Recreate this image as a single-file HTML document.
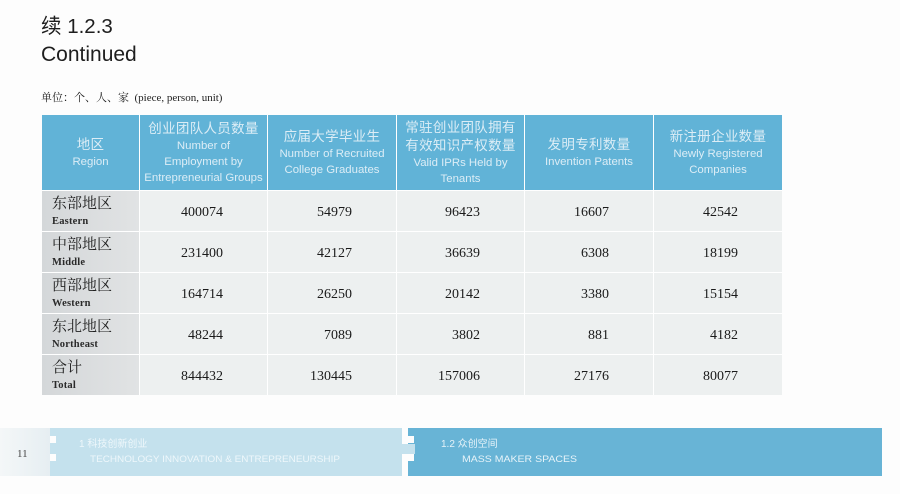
<!DOCTYPE html>
<html><head><meta charset="utf-8">
<style>
*{margin:0;padding:0;box-sizing:border-box}
html,body{width:900px;height:494px;background:#fdfdfd;overflow:hidden}
body{position:relative;font-family:"Liberation Sans","Noto Sans CJK SC",sans-serif}
.t1{position:absolute;left:41px;top:15px;font-size:20.5px;line-height:24px;color:#1e1e1e}
.t2{position:absolute;left:41px;top:43px;font-size:21px;line-height:24px;color:#1e1e1e}
.unit{position:absolute;left:41px;top:90px;font-size:11px;line-height:16px;color:#222;font-family:"Liberation Serif","Noto Serif CJK SC",serif;white-space:nowrap}
.grid{position:absolute;left:42px;top:115px;width:740px;height:280px;display:grid;
grid-template-columns:97px 127px 128px 127px 128px 128px;grid-template-rows:75px 40px 40px 40px 40px 40px;gap:1px;background:#fff}
.h{background:#61b3d7;color:#dcedf6;display:flex;flex-direction:column;align-items:center;justify-content:center;text-align:center}
.h .c{font-size:13.5px;line-height:18px;font-family:"Liberation Sans","Noto Sans CJK SC",sans-serif;letter-spacing:0.3px}
.h .e{font-size:11.4px;line-height:16px;white-space:nowrap}
.l{background:linear-gradient(90deg,#d4d7d9,#e1e3e4);padding-left:10px;display:flex;flex-direction:column;justify-content:center;color:#1e1e1e;padding-top:1px}
.l .c{font-family:"Liberation Serif","Noto Serif CJK SC",serif;font-size:15px;line-height:19px}
.l .e{font-family:"Liberation Serif",serif;font-size:10.5px;line-height:13px;color:#2a2a2a;font-weight:bold;letter-spacing:0.2px;margin-top:1px}
.n{background:#edf0f0;font-family:"Liberation Serif",serif;font-size:14px;color:#1a1a1a;text-align:right;padding-right:44px;padding-top:4px;display:flex;align-items:center;justify-content:flex-end}
.foot{position:absolute}
</style></head><body>
<div class="t1">续 1.2.3</div>
<div class="t2">Continued</div>
<div class="unit">单位：个、人、家 &nbsp;(piece, person, unit)</div>

<div class="grid">
<div class="h"><div class="c">地区</div><div class="e">Region</div></div>
<div class="h"><div class="c">创业团队人员数量</div><div class="e">Number of</div><div class="e">Employment by</div><div class="e">Entrepreneurial Groups</div></div>
<div class="h"><div class="c">应届大学毕业生</div><div class="e">Number of Recruited</div><div class="e">College Graduates</div></div>
<div class="h"><div class="c">常驻创业团队拥有</div><div class="c">有效知识产权数量</div><div class="e">Valid IPRs Held by</div><div class="e">Tenants</div></div>
<div class="h"><div class="c">发明专利数量</div><div class="e">Invention Patents</div></div>
<div class="h"><div class="c">新注册企业数量</div><div class="e">Newly Registered</div><div class="e">Companies</div></div>

<div class="l"><div class="c">东部地区</div><div class="e">Eastern</div></div>
<div class="n">400074</div><div class="n">54979</div><div class="n">96423</div><div class="n">16607</div><div class="n">42542</div>

<div class="l"><div class="c">中部地区</div><div class="e">Middle</div></div>
<div class="n">231400</div><div class="n">42127</div><div class="n">36639</div><div class="n">6308</div><div class="n">18199</div>

<div class="l"><div class="c">西部地区</div><div class="e">Western</div></div>
<div class="n">164714</div><div class="n">26250</div><div class="n">20142</div><div class="n">3380</div><div class="n">15154</div>

<div class="l"><div class="c">东北地区</div><div class="e">Northeast</div></div>
<div class="n">48244</div><div class="n">7089</div><div class="n">3802</div><div class="n">881</div><div class="n">4182</div>

<div class="l"><div class="c">合计</div><div class="e">Total</div></div>
<div class="n">844432</div><div class="n">130445</div><div class="n">157006</div><div class="n">27176</div><div class="n">80077</div>
</div>

<svg class="foot" style="left:0;top:420px" width="900" height="64" viewBox="0 420 900 64">
<defs>
<linearGradient id="lg0" x1="0" x2="1" y1="0" y2="0"><stop offset="0" stop-color="#f4f7f8"/><stop offset="1" stop-color="#e6eef2"/></linearGradient>
</defs>
<rect x="0" y="428" width="50" height="48" fill="url(#lg0)"/>
<rect x="50" y="428" width="352" height="48" fill="#c4e1ed"/>
<rect x="50" y="436" width="6" height="7" fill="#fdfdfd"/>
<rect x="50" y="454" width="6" height="7" fill="#fdfdfd"/>
<rect x="408" y="428" width="474" height="48" fill="#68b4d6"/>
<rect x="408" y="436" width="6" height="7" fill="#fdfdfd"/>
<rect x="402" y="444" width="13" height="10" fill="#c4e1ed"/>
<rect x="408" y="454" width="6" height="7" fill="#fdfdfd"/>
<text x="17" y="457" font-family="Liberation Serif,serif" font-size="11" fill="#444">11</text>
<text x="79" y="447" font-family="Liberation Sans,Noto Sans CJK SC,sans-serif" font-size="10" fill="#eef7fb">1  科技创新创业</text>
<text x="90" y="462" font-family="Liberation Sans,sans-serif" font-size="9.6" fill="#eef7fb" textLength="250" lengthAdjust="spacingAndGlyphs">TECHNOLOGY INNOVATION &amp; ENTREPRENEURSHIP</text>
<text x="441" y="447" font-family="Liberation Sans,Noto Sans CJK SC,sans-serif" font-size="10" fill="#e6f3f9">1.2  众创空间</text>
<text x="462" y="462" font-family="Liberation Sans,sans-serif" font-size="9.6" fill="#e6f3f9" textLength="115" lengthAdjust="spacingAndGlyphs">MASS MAKER SPACES</text>
</svg>
</body></html>
